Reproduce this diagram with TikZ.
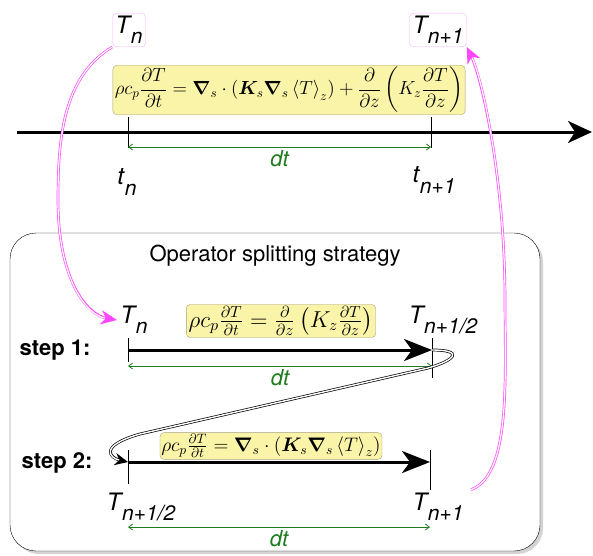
\documentclass[tikz,border=0pt]{standalone}
\usepackage{amsmath,bm}
\usepackage[no-math]{fontspec}
\setsansfont{TeX Gyre Heros}
\usetikzlibrary{arrows.meta,shadows}

\definecolor{eqyellow}{RGB}{250,244,168}
\definecolor{eqframe}{RGB}{165,160,125}
\definecolor{dtgreen}{RGB}{30,125,30}
\definecolor{linkpink}{RGB}{255,70,255}

% italic sans label with a big, low subscript
\newcommand{\tsub}[2]{\textit{#1\kern.03em\raisebox{-.42em}{\fontsize{21}{24}\selectfont #2}}}

\begin{document}
\begin{tikzpicture}[x=1pt,y=-1pt,
    eqbox/.style={draw=eqframe, fill=eqyellow, rounded corners=4pt, inner sep=1.5pt, transform shape, font=\fontsize{14.4}{17}\selectfont},
    tbox/.style={draw=linkpink!45, rounded corners=4pt, fill=white, inner sep=3pt, font=\sffamily\fontsize{24}{28}\selectfont},
    tlab/.style={font=\sffamily\fontsize{24}{28}\selectfont},
    steplab/.style={font=\sffamily\bfseries\fontsize{22}{26}\selectfont},
    timeline/.style={line width=3pt, -{Stealth[length=24pt,width=22pt,inset=7pt]}},
    stepline/.style={line width=3pt, -{Stealth[length=28pt,width=22pt,inset=8pt]}},
    tick/.style={line width=1pt},
    dtarrow/.style={dtgreen, line width=0.8pt, {Straight Barb[length=4pt,width=6pt]}-{Straight Barb[length=4pt,width=6pt]}},
    dtlab/.style={dtgreen, font=\sffamily\itshape\fontsize{22}{26}\selectfont},
    % hollow (double) connectors with a solid tip
    pinklink/.style={draw=linkpink, line width=2.6pt, -{Stealth[length=16pt,width=14pt,inset=5pt]},
      postaction={draw=white, line width=1.2pt, -, shorten >=12pt}},
    blacklink/.style={draw=black, line width=2.8pt, -{Stealth[length=13pt,width=12pt,inset=4pt]},
      postaction={draw=white, line width=1.4pt, -, shorten >=9pt}},
  ]
\useasboundingbox (0,0) rectangle (593,555);

%% the splitting frame
\draw[rounded corners=26pt, fill=white, drop shadow={shadow xshift=3pt, shadow yshift=-3pt, opacity=0.35}]
  (10,233) rectangle (540,551);
\node[font=\sffamily\fontsize{22}{26}\selectfont] (title) at (275,256) {Operator splitting strategy};

%% full time step
\coordinate (axL) at (17,132);
\coordinate (axR) at (592,132);
\coordinate (tn) at (128,132);
\coordinate (tn1) at (431,132);
\draw[timeline] (axL) -- (axR);
\draw[tick] ([yshift=15pt]tn) -- ([yshift=-16pt]tn);
\draw[tick] ([yshift=15pt]tn1) -- ([yshift=-16pt]tn1);
\draw[dtarrow] ([yshift=-15pt]tn) -- ([yshift=-15pt]tn1) node[dtlab, midway, below=0pt] (dt0) {dt};
\node[tlab] (tnlab) at (127,182) {\tsub{t}{n}};
\node[tlab] (tn1lab) at (434,180) {\tsub{t}{n+1}};

\node[eqbox, scale=1.32] (eqfull) at (289,90)
  {$\displaystyle \rho c_p\frac{\partial T}{\partial t} = \bm{\nabla}_s\cdot\left(\bm{K}_s\bm{\nabla}_s\left\langle T\right\rangle_z\right)+\frac{\partial}{\partial z}\left(K_z\frac{\partial T}{\partial z}\right)$};

\node[tbox] (Tn) at (129,30) {\tsub{T}{n}};
\node[tbox] (Tn1) at (438,30) {\tsub{T}{n+1}};

%% step 1
\node[steplab] (step1) at (55,350) {step 1:};
\coordinate (s1a) at (128,350);
\coordinate (s1b) at (432,350);
\draw[stepline] (s1a) -- (s1b);
\draw[tick] ([yshift=12pt]s1a) -- ([yshift=-12pt]s1a);
\draw[tick] ([yshift=12pt]s1b) -- ([yshift=-28pt]s1b);
\draw[dtarrow] ([yshift=-16pt]s1a) -- ([yshift=-16pt]s1b) node[dtlab, midway, below=0pt] (dt1) {dt};
\node[tlab] (Tnlab) at (134,320) {\tsub{T}{n}};
\node[tlab] (Thalf) at (443,320) {\tsub{T}{n+1/2}};
\node[eqbox, scale=1.6] (eqz) at (281,321)
  {$\rho c_p\frac{\partial T}{\partial t} = \frac{\partial}{\partial z}\left(K_z\frac{\partial T}{\partial z}\right)$};

%% step 2
\node[steplab] (step2) at (57,463) {step 2:};
\coordinate (s2a) at (128,462);
\coordinate (s2b) at (430,462);
\draw[stepline] (s2a) -- (s2b);
\draw[tick] ([yshift=12pt]s2a) -- ([yshift=-22pt]s2a);
\draw[tick] ([yshift=12pt]s2b) -- ([yshift=-28pt]s2b);
\draw[dtarrow] ([yshift=-65pt]s2a) -- ([yshift=-65pt]s2b) node[dtlab, midway, below=0pt] (dt2) {dt};
\node[tlab] (Thalf2) at (141,507) {\tsub{T}{n+1/2}};
\node[tlab] (Tn1lab) at (438,507) {\tsub{T}{n+1}};
\node[eqbox, scale=1.36, inner sep=1pt] (eqs) at (271,446)
  {$\rho c_p\frac{\partial T}{\partial t} = \bm{\nabla}_s\cdot\left(\bm{K}_s\bm{\nabla}_s\left\langle T\right\rangle_z\right)$};

%% links
\draw[blacklink] (s1b) .. controls +(32,0) and +(28,-8) .. (428,368)
  -- (140,434) .. controls +(-42,12) and +(-18,-4) .. (s2a);
\draw[pinklink] (Tn.south west) .. controls +(-50,30) and +(0,-60) .. (58,200)
  .. controls +(0,80) and +(-30,-5) .. (Tnlab.west);
\draw[pinklink] ([xshift=4pt]Tn1lab.north east) .. controls +(40,-15) and +(0,80) .. (505,300)
  .. controls +(0,-120) and +(15,30) .. (Tn1.south east);
\end{tikzpicture}
\end{document}
